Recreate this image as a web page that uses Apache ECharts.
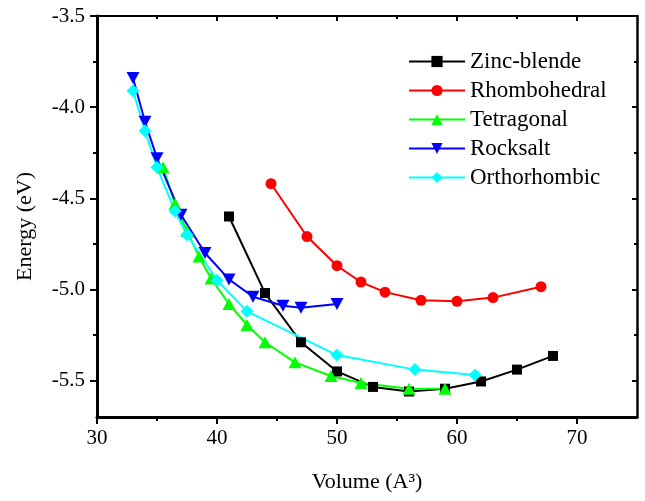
<!DOCTYPE html>
<html>
<head>
<meta charset="utf-8">
<script src="https://cdn.jsdelivr.net/npm/echarts@6/dist/echarts.min.js"></script>
<style>
html,body{margin:0;padding:0;background:#fff;}
#chart{width:645px;height:501px;}
</style>
</head>
<body>
<div id="chart"></div>
<script>
// ---- data ----
const zincX = [41, 44, 47, 50, 53, 56, 59, 62, 65, 68];
const zincY = [-4.60, -5.02, -5.29, -5.45, -5.535, -5.56, -5.545, -5.505, -5.44, -5.365];

const rhomboX = [44.5, 47.5, 50, 52, 54, 57, 60, 63, 67];
const rhomboY = [-4.42, -4.71, -4.87, -4.96, -5.015, -5.06, -5.065, -5.045, -4.985];

const tetraX = [35.5, 36.5, 37.5, 38.5, 39.5, 41, 42.5, 44, 46.5, 49.5, 52, 56, 59];
const tetraY = [-4.33, -4.53, -4.68, -4.82, -4.94, -5.08, -5.195, -5.29, -5.40, -5.475, -5.513, -5.545, -5.545];

const rockX = [33, 34, 35, 37, 39, 41, 43, 45.5, 47, 50];
const rockY = [-3.84, -4.08, -4.28, -4.59, -4.80, -4.945, -5.04, -5.09, -5.10, -5.08];

const orthoX = [33, 34, 35, 36.5, 37.5, 40, 42.5, 50, 56.5, 61.5];
const orthoY = [-3.91, -4.13, -4.33, -4.57, -4.70, -4.95, -5.12, -5.36, -5.44, -5.47];

const seriesNames = ['Zinc-blende', 'Rhombohedral', 'Tetragonal', 'Rocksalt', 'Orthorhombic'];

const xMajorTicks = [30, 40, 50, 60, 70];
const xMinorTicks = [35, 45, 55, 65];
const yMajorTicks = [-5.5, -5.0, -4.5, -4.0, -3.5];
const yMinorTicks = [-5.25, -4.75, -4.25, -3.75];

const xName = 'Volume (A³)';
const yName = 'Energy (eV)';

// ---- chart ----
const FONT = "'Liberation Serif', 'DejaVu Serif', serif";
const pairs = (xs, ys) => xs.map((x, i) => [x, ys[i]]);

const XMIN = 30, XMAX = 75, YMIN = -5.7, YMAX = -3.5;

function xAx(opts) {
  return Object.assign({
    type: 'value', min: XMIN, max: XMAX, gridIndex: 0,
    splitLine: {show: false},
    axisLine: {show: false},
    axisLabel: {show: false},
    axisTick: {show: false}
  }, opts);
}
function yAx(opts) {
  return Object.assign({
    type: 'value', min: YMIN, max: YMAX, gridIndex: 0,
    splitLine: {show: false},
    axisLine: {show: false},
    axisLabel: {show: false},
    axisTick: {show: false}
  }, opts);
}

const lineStyleBase = {width: 2};

const option = {
  backgroundColor: '#fff',
  animation: false,
  textStyle: {fontFamily: FONT, color: '#000'},
  grid: {left: 97, right: 8, top: 16, bottom: 84, containLabel: false},
  legend: {
    left: 408, top: 50, orient: 'vertical', padding: 0,
    itemWidth: 56, itemHeight: 14, itemGap: 6,
    data: seriesNames,
    textStyle: {fontFamily: FONT, fontSize: 23, color: '#000'}
  },
  xAxis: [
    xAx({
      position: 'bottom',
      name: xName, nameLocation: 'middle', nameGap: 54,
      nameTextStyle: {fontFamily: FONT, fontSize: 22, color: '#000'},
      axisLine: {show: true, onZero: false, lineStyle: {color: '#000', width: 3}},
      axisTick: {show: true, inside: false, length: 7, customValues: xMajorTicks, lineStyle: {color: '#000', width: 2}},
      axisLabel: {show: true, margin: 11, customValues: xMajorTicks, fontFamily: FONT, fontSize: 21, color: '#000'}
    }),
    xAx({
      position: 'bottom',
      axisTick: {show: true, inside: false, length: 4, customValues: xMinorTicks, lineStyle: {color: '#000', width: 2}}
    }),
    xAx({
      position: 'top',
      axisLine: {show: true, onZero: false, lineStyle: {color: '#000', width: 2}},
      axisTick: {show: true, inside: true, length: 5, customValues: xMajorTicks, lineStyle: {color: '#000', width: 2}}
    }),
    xAx({
      position: 'top',
      axisTick: {show: true, inside: true, length: 3, customValues: xMinorTicks, lineStyle: {color: '#000', width: 2}}
    })
  ],
  yAxis: [
    yAx({
      position: 'left',
      name: yName, nameLocation: 'middle', nameGap: 61,
      nameTextStyle: {fontFamily: FONT, fontSize: 22, color: '#000', padding: [0, 20, 0, 0]},
      axisLine: {show: true, onZero: false, lineStyle: {color: '#000', width: 3}},
      axisTick: {show: true, inside: false, length: 7, customValues: yMajorTicks, lineStyle: {color: '#000', width: 2}},
      axisLabel: {show: true, margin: 12, customValues: yMajorTicks, fontFamily: FONT, fontSize: 21, color: '#000',
                  formatter: v => Number(v).toFixed(1)}
    }),
    yAx({
      position: 'left',
      axisTick: {show: true, inside: false, length: 4, customValues: yMinorTicks, lineStyle: {color: '#000', width: 2}}
    }),
    yAx({
      position: 'right',
      axisLine: {show: true, onZero: false, lineStyle: {color: '#000', width: 2.5}},
      axisTick: {show: true, inside: true, length: 5, customValues: yMajorTicks, lineStyle: {color: '#000', width: 2}}
    }),
    yAx({
      position: 'right',
      axisTick: {show: true, inside: true, length: 3, customValues: yMinorTicks, lineStyle: {color: '#000', width: 2}}
    })
  ],
  series: [
    {
      name: seriesNames[0], type: 'line', xAxisIndex: 0, yAxisIndex: 0,
      data: pairs(zincX, zincY),
      symbol: 'rect', symbolSize: 10,
      itemStyle: {color: '#000000'}, lineStyle: Object.assign({color: '#000000'}, lineStyleBase)
    },
    {
      name: seriesNames[1], type: 'line', xAxisIndex: 0, yAxisIndex: 0,
      data: pairs(rhomboX, rhomboY),
      symbol: 'circle', symbolSize: 11,
      itemStyle: {color: '#ff0000'}, lineStyle: Object.assign({color: '#ff0000'}, lineStyleBase)
    },
    {
      name: seriesNames[2], type: 'line', xAxisIndex: 0, yAxisIndex: 0,
      data: pairs(tetraX, tetraY),
      symbol: 'triangle', symbolSize: [13, 12],
      itemStyle: {color: '#00ff00'}, lineStyle: Object.assign({color: '#00ff00'}, lineStyleBase)
    },
    {
      name: seriesNames[3], type: 'line', xAxisIndex: 0, yAxisIndex: 0,
      data: pairs(rockX, rockY),
      symbol: 'triangle', symbolRotate: 180, symbolSize: [13, 12],
      itemStyle: {color: '#0000ff'}, lineStyle: Object.assign({color: '#0000ff'}, lineStyleBase)
    },
    {
      name: seriesNames[4], type: 'line', xAxisIndex: 0, yAxisIndex: 0,
      data: pairs(orthoX, orthoY),
      symbol: 'diamond', symbolSize: [13, 13],
      itemStyle: {color: '#00ffff'}, lineStyle: Object.assign({color: '#00ffff'}, lineStyleBase)
    }
  ]
};

const chart = echarts.init(document.getElementById('chart'), null, {renderer: 'canvas'});
chart.setOption(option);
</script>
</body>
</html>
